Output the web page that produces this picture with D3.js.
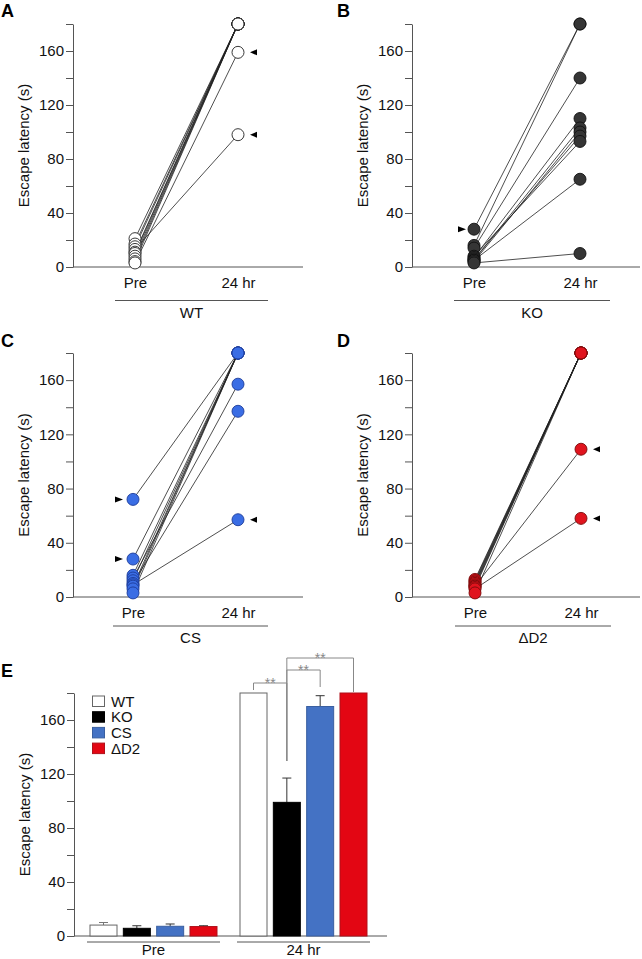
<!DOCTYPE html>
<html>
<head>
<meta charset="utf-8">
<script src="https://cdn.jsdelivr.net/npm/d3@7"></script>
<style>
  body { margin: 0; background: #fff; }
  svg { display: block; font-family: "Liberation Sans", Arial, sans-serif; }
</style>
</head>
<body>
<svg id="fig" width="642" height="959"></svg>
<script>
// ---- data ----
const times = ["Pre", "24 hr"];
const genotypes = ["WT", "KO", "CS", "ΔD2"];
const yTicks = [0, 20, 40, 60, 80, 100, 120, 140, 160, 180];
const yLabels = [0, 40, 80, 120, 160];

// individual mice, pre vs 24 hr (s)
const wtPre  = [21, 17, 15, 11, 10, 8, 6, 4, 3, 13];
const wtPost = [180, 180, 180, 180, 180, 180, 180, 180, 159, 98];
const koPre  = [28, 16, 14, 7, 5, 4, 6, 8, 5, 3];
const koPost = [180, 180, 140, 110, 103, 100, 97, 93, 65, 10];
const csPre  = [72, 28, 16, 14, 12, 10, 8, 6, 3, 9];
const csPost = [180, 180, 180, 157, 180, 137, 180, 180, 180, 57];
const d2Pre  = [13, 12, 11, 10, 9, 8, 7, 3, 8, 6];
const d2Post = [180, 180, 180, 180, 180, 180, 180, 180, 109, 58];

// arrowheads: [time, value]
const wtArrows = [["24 hr", 159], ["24 hr", 98]];
const koArrows = [["Pre", 28]];
const csArrows = [["Pre", 72], ["Pre", 28], ["24 hr", 57]];
const d2Arrows = [["24 hr", 109], ["24 hr", 58]];

// group means +/- sem
const preMean  = [8.1, 5.7, 7.2, 7.0];
const preErr   = [1.9, 1.9, 1.7, 0.6];
const postMean = [180, 99, 170, 180];
const postErr  = [0, 18, 8, 0];
const sigPairs = [["WT", "KO"], ["KO", "CS"], ["KO", "ΔD2"]];

const svg = d3.select("#fig");
const lineCol = "#555";

function yAxis(g, y, ax) {
  g.append("g")
    .attr("transform", `translate(${ax},0)`)
    .call(d3.axisLeft(y).tickValues(yTicks).tickSize(7).tickSizeOuter(0).tickPadding(2)
      .tickFormat(d => yLabels.includes(d) ? d : ""))
    .call(a => a.selectAll("line,path").attr("stroke", lineCol))
    .call(a => a.selectAll("text").attr("font-size", 15).attr("fill", "#111")
      .attr("font-family", "Liberation Sans, Arial, sans-serif"));
  g.append("text")
    .attr("transform", `translate(${ax - 49},${(y(0) + y(180)) / 2}) rotate(-90)`)
    .attr("text-anchor", "middle").attr("dy", "0.32em")
    .attr("font-size", 15).attr("fill", "#111")
    .text("Escape latency (s)");
}

function paired(p) {
  const g = svg.append("g");
  const y = d3.scaleLinear().domain([0, 180]).range([p.zero, p.top]);
  const x = d3.scalePoint().domain(times).range([p.preX, p.postX]);

  yAxis(g, y, p.ax);
  g.append("line").attr("x1", p.ax).attr("x2", p.xEnd)
    .attr("y1", y(0)).attr("y2", y(0)).attr("stroke", lineCol);
  g.append("g").attr("transform", `translate(0,${y(0)})`)
    .call(d3.axisBottom(x).tickSize(0).tickPadding(10))
    .call(a => a.select(".domain").remove())
    .call(a => a.selectAll("text").attr("font-size", 15).attr("fill", "#111")
      .attr("font-family", "Liberation Sans, Arial, sans-serif"));

  g.append("line").attr("x1", p.preX - 20).attr("x2", p.postX + 30)
    .attr("y1", p.zero + p.lineOff).attr("y2", p.zero + p.lineOff).attr("stroke", lineCol);
  g.append("text").attr("x", (p.preX + p.postX) / 2 + 5).attr("y", p.zero + p.labelOff)
    .attr("text-anchor", "middle").attr("font-size", 15).attr("fill", "#111").text(p.name);

  g.append("text").attr("x", p.letterX).attr("y", p.zero - 250)
    .attr("font-size", 18).attr("font-weight", "bold").text(p.letter);

  const mice = p.pre.map((v, i) => ({ pre: v, post: p.post[i] }));
  g.selectAll(".pair").data(mice).join("line")
    .attr("x1", x("Pre")).attr("y1", d => y(d.pre))
    .attr("x2", x("24 hr")).attr("y2", d => y(d.post))
    .attr("stroke", "#222").attr("stroke-width", 0.8);

  const pts = mice.flatMap(d => [["Pre", d.pre], ["24 hr", d.post]])
    .sort((a, b) => b[1] - a[1]);
  g.selectAll(".dot").data(pts).join("circle")
    .attr("cx", d => x(d[0])).attr("cy", d => y(d[1])).attr("r", 6)
    .attr("fill", p.fill).attr("stroke", p.stroke).attr("stroke-width", 0.9);

  g.selectAll(".arr").data(p.arrows).join("path")
    .attr("d", d => {
      const cx = x(d[0]), cy = y(d[1]);
      if (d[0] === "Pre") {
        const tip = cx - p.preTip;
        return `M${tip},${cy}L${tip - 8},${cy - 3}L${tip - 8},${cy + 3}Z`;
      }
      const tip = cx + 12;
      return `M${tip},${cy}L${tip + 7},${cy - 3}L${tip + 7},${cy + 3}Z`;
    })
    .attr("fill", "#000");
}

paired({ letter: "A", letterX: 1, name: "WT", ax: 73, top: 24, zero: 267, xEnd: 303, preX: 135, postX: 238,
  lineOff: 33.5, labelOff: 51, pre: wtPre, post: wtPost, arrows: wtArrows, fill: "#fff", stroke: "#222", preTip: 10 });
paired({ letter: "B", letterX: 337, name: "KO", ax: 412, top: 24, zero: 267, xEnd: 640, preX: 474, postX: 580,
  lineOff: 33.5, labelOff: 51, pre: koPre, post: koPost, arrows: koArrows, fill: "#353535", stroke: "#111", preTip: 8 });
paired({ letter: "C", letterX: 1, name: "CS", ax: 73, top: 353, zero: 597, xEnd: 303, preX: 133, postX: 238,
  lineOff: 29, labelOff: 46, pre: csPre, post: csPost, arrows: csArrows, fill: "#3a6de4", stroke: "#1d3c9a", preTip: 10 });
paired({ letter: "D", letterX: 337, name: "ΔD2", ax: 412, top: 353, zero: 597, xEnd: 640, preX: 475, postX: 581,
  lineOff: 29, labelOff: 46, pre: d2Pre, post: d2Post, arrows: d2Arrows, fill: "#e0141e", stroke: "#7a0a0a", preTip: 10 });

// ---- panel E ----
const barFill = ["#fff", "#000", "#4472c4", "#e30613"];
const barStroke = ["#666", "#000", "#3a5fa0", "#b0101a"];
const gE = svg.append("g");
const yE = d3.scaleLinear().domain([0, 180]).range([936, 693]);
const xG = d3.scaleBand().domain(times).range([78.5, 378.5]);
const xB = d3.scaleBand().domain(genotypes).range([11.5, 138.5]).paddingInner(0.19);

yAxis(gE, yE, 74);
gE.append("line").attr("x1", 74).attr("x2", 387).attr("y1", yE(0)).attr("y2", yE(0)).attr("stroke", lineCol);
gE.append("text").attr("x", 1).attr("y", 677).attr("font-size", 18).attr("font-weight", "bold").text("E");

const bars = [];
genotypes.forEach((gn, i) => {
  bars.push({ t: "Pre", g: gn, i, m: preMean[i], e: preErr[i] });
  bars.push({ t: "24 hr", g: gn, i, m: postMean[i], e: postErr[i] });
});
const bx = d => xG(d.t) + xB(d.g);

gE.selectAll(".err").data(bars.filter(d => d.e > 0)).join("path")
  .attr("d", d => {
    const c = bx(d) + xB.bandwidth() / 2;
    return `M${c},${yE(d.m)}V${yE(d.m + d.e)}M${c - 4.5},${yE(d.m + d.e)}H${c + 4.5}`;
  })
  .attr("stroke", d => d.i === 0 ? "#777" : "#333").attr("fill", "none").attr("stroke-width", 1);

gE.selectAll(".bar").data(bars).join("rect")
  .attr("x", d => bx(d)).attr("width", xB.bandwidth())
  .attr("y", d => yE(d.m)).attr("height", d => yE(0) - yE(d.m))
  .attr("fill", d => barFill[d.i]).attr("stroke", d => barStroke[d.i]).attr("stroke-width", 1);

times.forEach(t => {
  gE.append("line").attr("x1", xG(t) + 8.5).attr("x2", xG(t) + 141.5)
    .attr("y1", 942).attr("y2", 942).attr("stroke", lineCol);
  gE.append("text").attr("x", xG(t) + 75).attr("y", 955).attr("text-anchor", "middle")
    .attr("font-size", 15).attr("fill", "#111").text(t);
});

// significance brackets (24 hr)
const bc = g => xG("24 hr") + xB(g) + xB.bandwidth() / 2;
const brTop = [683, 670, 658];
const brEnds = [[690, 761], [761, 687], [761, 692]];
sigPairs.forEach((pr, k) => {
  const x1 = bc(pr[0]), x2 = bc(pr[1]);
  gE.append("path")
    .attr("d", `M${x1},${brEnds[k][0]}V${brTop[k]}H${x2}V${brEnds[k][1]}`)
    .attr("fill", "none").attr("stroke", "#888").attr("stroke-width", 1);
  gE.append("text").attr("x", (x1 + x2) / 2).attr("y", brTop[k] + 4.5)
    .attr("text-anchor", "middle").attr("font-size", 14).attr("fill", "#888").text("**");
});

// legend
genotypes.forEach((gn, i) => {
  const ly = 696 + i * 15.7;
  gE.append("rect").attr("x", 92.5).attr("y", ly).attr("width", 12).attr("height", 10.5)
    .attr("fill", barFill[i]).attr("stroke", barStroke[i]);
  gE.append("text").attr("x", 111).attr("y", ly + 10.5).attr("font-size", 15).attr("fill", "#111").text(gn);
});
</script>
</body>
</html>
